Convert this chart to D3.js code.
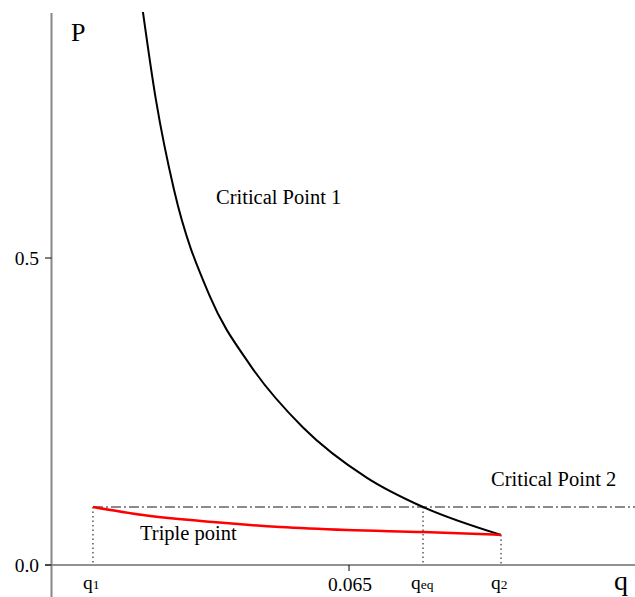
<!DOCTYPE html>
<meta charset="utf-8">
<style>
body { margin: 0; background: #fff; }
</style>
<html>
  <body>
    <svg width="635" height="597" font-family="Liberation Serif, Times New Roman, DejaVu Serif, serif"></svg>
  </body>
</html>
<script src="https://d3js.org/d3.v7.min.js"></script>
<script>

// critical point 1 line (q, P)
var cp1Q = [0.061509, 0.061756, 0.062059, 0.062664, 0.063336, 0.064227, 0.065303, 0.066244, 0.067555];
var cp1P = [0.920, 0.757, 0.611, 0.437, 0.326, 0.224, 0.142, 0.0945, 0.049];

// triple point line
var tpQ = [0.060697, 0.061538, 0.062714, 0.063840, 0.064966, 0.066244, 0.067555];
var tpP = [0.0945, 0.0814, 0.0700, 0.0619, 0.0570, 0.0537, 0.049];

// critical point 2 (horizontal)
var cp2P = 0.0945;

// marked q values: q1, q_eq, q2
var markQ = [0.060697, 0.066244, 0.067555];
var markP = [0.0945, 0.0945, 0.049];
var markSub = ["1", "eq", "2"];

var xTicks = [0.065];
var yTicks = [0.0, 0.5];

(function() {
  var svg = d3.select("svg");

  var x = d3.scaleLinear().domain([0.06, 0.065]).range([51.5, 349]);
  var y = d3.scaleLinear().domain([0, 0.5]).range([565, 258]);

  svg.append("clipPath").attr("id", "clip")
    .append("rect").attr("x", 52).attr("y", 12).attr("width", 583).attr("height", 560);

  // x axis
  svg.append("line")
      .attr("x1", 45).attr("x2", 635)
      .attr("y1", y(0)).attr("y2", y(0))
      .attr("stroke", "#222").attr("stroke-width", 1);

  // y axis
  svg.append("line")
      .attr("x1", x(0.06)).attr("x2", x(0.06))
      .attr("y1", 13).attr("y2", 597)
      .attr("stroke", "#888").attr("stroke-width", 2);

  svg.selectAll(".xtick").data(xTicks).enter().append("line")
      .attr("x1", function(d) { return x(d); }).attr("x2", function(d) { return x(d); })
      .attr("y1", y(0)).attr("y2", y(0) + 6)
      .attr("stroke", "#000");
  svg.selectAll(".xlab").data(xTicks).enter().append("text")
      .attr("x", function(d) { return x(d) + 1; }).attr("y", 591)
      .attr("text-anchor", "middle").attr("font-size", 19.5)
      .text(function(d) { return d3.format(".3f")(d); });

  svg.selectAll(".ytick").data(yTicks).enter().append("line")
      .attr("x1", 45).attr("x2", x(0.06))
      .attr("y1", function(d) { return y(d); }).attr("y2", function(d) { return y(d); })
      .attr("stroke", "#000");
  svg.selectAll(".ylab").data(yTicks).enter().append("text")
      .attr("x", 39).attr("y", function(d) { return y(d) + 7; })
      .attr("text-anchor", "end").attr("font-size", 19.5)
      .text(function(d) { return d3.format(".1f")(d); });

  svg.append("text").attr("x", 71).attr("y", 41).attr("font-size", 26).text("P");
  svg.append("text").attr("x", 614).attr("y", 590).attr("font-size", 28).text("q");

  // dash-dot line for critical point 2
  svg.append("line")
      .attr("x1", x(markQ[0])).attr("x2", 635)
      .attr("y1", y(cp2P)).attr("y2", y(cp2P))
      .attr("stroke", "#666").attr("stroke-width", 1.3)
      .attr("stroke-dasharray", "10,3,2,3");

  // dotted verticals
  svg.selectAll(".vdot").data(markQ).enter().append("line")
      .attr("x1", function(d) { return x(d); }).attr("x2", function(d) { return x(d); })
      .attr("y1", function(d, i) { return y(markP[i]); }).attr("y2", y(0))
      .attr("stroke", "#000").attr("stroke-width", 1)
      .attr("stroke-dasharray", "1.5,3");

  var mlab = svg.selectAll(".mlab").data(markQ).enter().append("text")
      .attr("x", function(d, i) { return x(d) - (i == 1 ? 12 : 10); }).attr("y", 589)
      .attr("font-size", 19.5);
  mlab.append("tspan").text("q");
  mlab.append("tspan").attr("font-size", 13.5).text(function(d, i) { return markSub[i]; });

  var line = d3.line()
      .x(function(d) { return x(d[0]); })
      .y(function(d) { return y(d[1]); })
      .curve(d3.curveMonotoneX);

  svg.append("path")
      .datum(d3.zip(cp1Q, cp1P))
      .attr("clip-path", "url(#clip)")
      .attr("fill", "none").attr("stroke", "#000").attr("stroke-width", 2)
      .attr("d", line);

  svg.append("path")
      .datum(d3.zip(tpQ, tpP))
      .attr("fill", "none").attr("stroke", "#f00").attr("stroke-width", 2.5)
      .attr("d", line);

  svg.append("text").attr("x", 216).attr("y", 204).attr("font-size", 20.5).text("Critical Point 1");
  svg.append("text").attr("x", 491).attr("y", 486).attr("font-size", 20.5).text("Critical Point 2");
  svg.append("text").attr("x", 140).attr("y", 540).attr("font-size", 20.5).text("Triple point");
})();

</script>
